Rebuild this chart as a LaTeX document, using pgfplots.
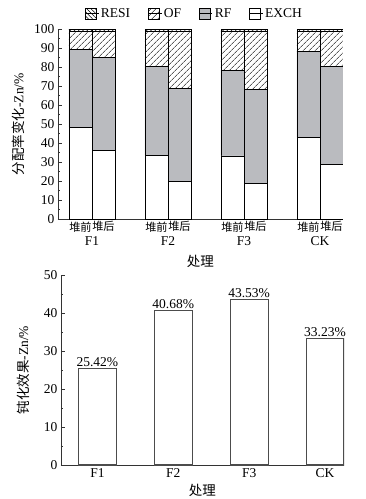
\documentclass[border=0pt]{standalone}
\usepackage{fontspec}
\setmainfont{Liberation Serif}
\newfontfamily\cjk{Noto Sans CJK SC}
\usepackage{pgfplots}
\pgfplotsset{compat=1.18}
\usepackage{pgfplotstable}
\usetikzlibrary{patterns,patterns.meta}
\definecolor{rfgray}{RGB}{186,187,191}
\newcommand{\sm}[1]{{\fontsize{11.2}{13}\selectfont\cjk #1}}
\pgfplotstableread{
x exch rf of resi
-0.1513 48.3 41.0 9.3 1.4
0.1513 36.0 49.1 13.5 1.4
0.8487 33.5 46.8 18.3 1.4
1.1513 19.7 49.2 29.7 1.4
1.8487 33.2 45.1 20.7 1.0
2.1513 18.8 49.5 30.7 1.0
2.8487 43.0 45.0 10.6 1.4
3.1513 28.9 51.2 18.5 1.4
}\topdata
\pgfplotstableread{
x eff
0 25.42
1 40.68
2 43.53
3 33.23
}\botdata
\begin{document}
\begin{tikzpicture}[font=\fontsize{13.5}{15}\selectfont]
\useasboundingbox (0,0) rectangle (365pt,-499pt);
\begin{axis}[
  at={(58pt,-219pt)}, anchor=south west,
  scale only axis, width=285pt, height=190pt,
  ybar stacked, bar width=0.3026,
  xmin=-0.447, xmax=3.303, ymin=0, ymax=100,
  axis lines*=left,
  axis line style={black!80, line width=0.9pt},
  ytick={0,10,...,100}, minor y tick num=1,
  tick align=inside, major tick length=4pt, minor tick length=2.5pt,
  tick style={black!80, line width=0.7pt},
  xtick={-0.1513,0.1513,0.8487,1.1513,1.8487,2.1513,2.8487,3.1513},
  xticklabels={\sm{堆前},\sm{堆后},\sm{堆前},\sm{堆后},\sm{堆前},\sm{堆后},\sm{堆前},\sm{堆后}},
  x tick style={draw=none},
  x tick label style={yshift=1pt},
  extra x ticks={0,1,2,3},
  extra x tick labels={F1,F2,F3,CK},
  extra x tick style={major tick length=0pt, tick label style={yshift=-15pt}},
  /pgf/number format/assume math mode=true,
  xlabel={\cjk 处理},
  xlabel style={at={(axis description cs:0.5,0)}, anchor=center, yshift=-42pt},
  ylabel={{\cjk 分配率变化}-Zn/\%},
  ylabel style={at={(axis description cs:-0.14,0.5)}, anchor=center},
  legend style={at={(axis description cs:0.5,1)}, anchor=south, xshift=-6pt, yshift=8pt,
    draw=none, fill=none, legend columns=4, inner sep=0pt,
    /tikz/every even column/.append style={column sep=16pt}},
  legend image code/.code={\draw[#1,draw=black,line width=0.6pt] (0pt,-5.5pt) rectangle (11pt,5.5pt); \path (0pt,0pt) -- (13pt,0pt);},
  reverse legend,
]
\addplot[draw=black, line width=0.7pt, fill=white] table[x=x,y=exch]{\topdata};
\addlegendentry{EXCH}
\addplot[draw=black, line width=0.7pt, fill=rfgray] table[x=x,y=rf]{\topdata};
\addlegendentry{RF}
\addplot[draw=black, line width=0.7pt, pattern={Lines[angle=45,distance=4pt,line width=0.5pt]}, pattern color=black] table[x=x,y=of]{\topdata};
\addlegendentry{OF}
\addplot[draw=black, line width=0.7pt, pattern={Lines[angle=-45,distance=3pt,line width=0.5pt]}, pattern color=black] table[x=x,y=resi]{\topdata};
\addlegendentry{RESI\hspace{18pt}}
\end{axis}
\begin{axis}[
  at={(61pt,-465pt)}, anchor=south west,
  scale only axis, width=283pt, height=190pt,
  ybar, bar width=0.5,
  xmin=-0.48, xmax=3.25, ymin=0, ymax=50,
  axis lines*=left,
  axis line style={black!80, line width=0.9pt},
  ytick={0,10,...,50}, minor y tick num=1,
  tick align=inside, major tick length=4pt, minor tick length=2.5pt,
  tick style={black!80, line width=0.7pt},
  xtick={0,1,2,3}, xticklabels={F1,F2,F3,CK},
  x tick style={draw=none},
  /pgf/number format/assume math mode=true,
  xlabel={\cjk 处理},
  xlabel style={at={(axis description cs:0.5,0)}, anchor=center, yshift=-25pt},
  ylabel={{\cjk 钝化效果}-Zn/\%},
  ylabel style={at={(axis description cs:-0.134,0.5)}, anchor=center},
  nodes near coords={\pgfmathprintnumber[fixed,precision=2,fixed zerofill]{\pgfplotspointmeta}\%},
  nodes near coords style={font=\fontsize{13.5}{15}\selectfont, inner sep=1.5pt},
]
\addplot[draw=black!70, line width=1.1pt, fill=white] table[x=x,y=eff]{\botdata};
\end{axis}
\end{tikzpicture}
\end{document}
